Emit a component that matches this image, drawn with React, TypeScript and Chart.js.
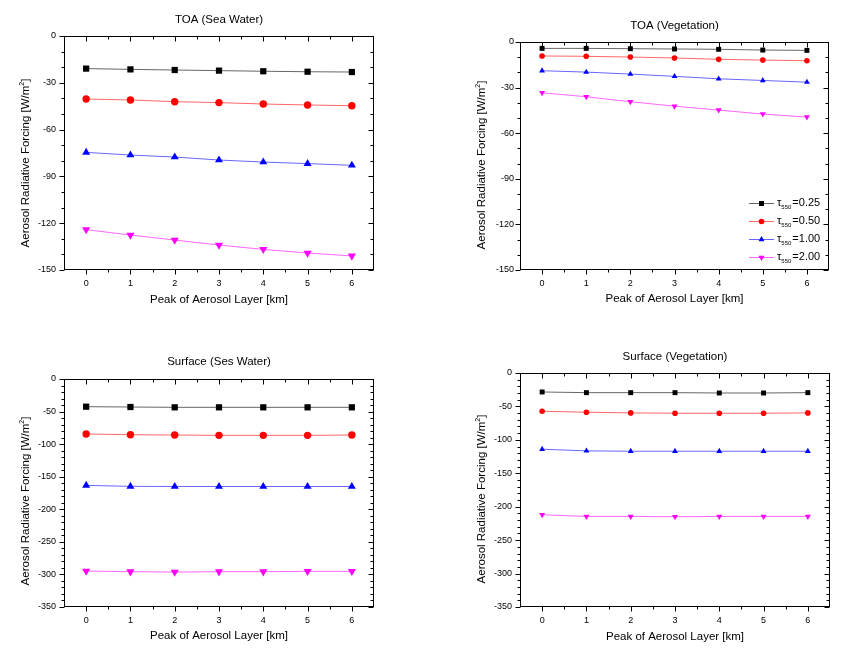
import React, { useEffect, useRef } from "react";
import { Chart, registerables } from "chart.js";
import { drawPoint } from "chart.js/helpers";

Chart.register(...registerables);

// ---------- data ----------
const heights = [0, 1, 2, 3, 4, 5, 6];
const xTickValues = [0, 1, 2, 3, 4, 5, 6];
const tauValues = ["0.25", "0.50", "1.00", "2.00"];

const panelTitles = ["TOA (Sea Water)", "TOA (Vegetation)", "Surface (Ses Water)", "Surface (Vegetation)"];
const xAxisTitle = "Peak of Aerosol Layer [km]";
const yAxisTitleMain = "Aerosol Radiative Forcing [W/m";
const yAxisTitleSup = "2";
const yAxisTitleEnd = "]";

const toaSea025 = [-20.9, -21.4, -21.8, -22.2, -22.6, -22.9, -23.1];
const toaSea050 = [-40.4, -41.0, -42.1, -42.7, -43.6, -44.2, -44.7];
const toaSea100 = [-74.6, -76.3, -77.6, -79.5, -80.8, -81.8, -82.9];
const toaSea200 = [-124.1, -127.6, -130.8, -134.0, -136.8, -139.1, -141.0];

const toaVeg025 = [-4.2, -4.2, -4.4, -4.6, -4.8, -5.3, -5.5];
const toaVeg050 = [-9.2, -9.4, -9.9, -10.5, -11.4, -11.9, -12.3];
const toaVeg100 = [-18.9, -19.8, -21.1, -22.6, -24.2, -25.3, -26.4];
const toaVeg200 = [-33.4, -36.0, -39.3, -42.2, -44.8, -47.4, -49.4];

const sfcSea025 = [-42.5, -43.0, -43.5, -43.5, -43.5, -43.5, -43.5];
const sfcSea050 = [-84.4, -85.5, -86.0, -86.5, -86.5, -86.5, -86.0];
const sfcSea100 = [-163.3, -164.8, -165.0, -165.0, -165.0, -165.0, -165.0];
const sfcSea200 = [-294.8, -295.8, -296.3, -295.8, -295.8, -295.3, -295.3];

const sfcVeg025 = [-28.4, -29.4, -29.4, -29.4, -29.9, -29.9, -29.4];
const sfcVeg050 = [-57.2, -58.7, -59.7, -60.2, -60.2, -60.2, -59.7];
const sfcVeg100 = [-114.0, -116.5, -117.0, -117.0, -117.0, -117.0, -117.0];
const sfcVeg200 = [-212.0, -214.5, -214.5, -215.0, -214.5, -214.5, -214.5];

const toaYTicks = { min: -150, max: 0, step: 30, minor: 10 };
const sfcYTicks = { min: -350, max: 0, step: 50, minor: 10 };

// ---------- styles ----------
const FONT = "'Liberation Sans', Arial, Helvetica, sans-serif";
const seriesColors = ["#000000", "#ff0000", "#0000ff", "#ff00ff"];
const seriesLineColors = ["rgba(0,0,0,0.6)", "rgba(255,0,0,0.6)", "rgba(0,0,255,0.6)", "rgba(255,0,255,0.6)"];
const seriesPointStyles = ["rect", "circle", "triangle", "triangle"];
const seriesRotations = [0, 0, 0, 180];
const bigRadii = [4.4, 3.7, 4.6, 4.7];
const smallRadii = [3.5, 2.8, 3.4, 3.5];

const W = 421;
const H = 328;
const Y_W = 40;
const X_H = 30;

type PanelCfg = {
  posX: number;
  posY: number;
  area: { l: number; r: number; t: number; b: number };
  title: string;
  titleY: number;
  xTitleY: number;
  yTitleX: number;
  yTitleY: number;
  yTicks: { min: number; max: number; step: number; minor: number };
  series: number[][];
  radii: number[];
  legend: boolean;
  yPad: number;
};

const panels: PanelCfg[] = [
  {
    posX: 0, posY: 0, area: { l: 64, r: 374, t: 36, b: 270 },
    title: panelTitles[0], titleY: 20, xTitleY: 300, yTitleX: 26, yTitleY: 163,
    yTicks: toaYTicks, series: [toaSea025, toaSea050, toaSea100, toaSea200], radii: bigRadii, legend: false, yPad: 8,
  },
  {
    posX: 421, posY: 0, area: { l: 99, r: 408, t: 42, b: 270 },
    title: panelTitles[1], titleY: 26, xTitleY: 299, yTitleX: 61, yTitleY: 165,
    yTicks: toaYTicks, series: [toaVeg025, toaVeg050, toaVeg100, toaVeg200], radii: smallRadii, legend: true, yPad: 6,
  },
  {
    posX: 0, posY: 328, area: { l: 64, r: 374, t: 51, b: 279 },
    title: panelTitles[2], titleY: 34, xTitleY: 308, yTitleX: 26, yTitleY: 173,
    yTicks: sfcYTicks, series: [sfcSea025, sfcSea050, sfcSea100, sfcSea200], radii: bigRadii, legend: false, yPad: 8,
  },
  {
    posX: 421, posY: 328, area: { l: 99, r: 409, t: 45, b: 279 },
    title: panelTitles[3], titleY: 29, xTitleY: 309, yTitleX: 61, yTitleY: 171,
    yTicks: sfcYTicks, series: [sfcVeg025, sfcVeg050, sfcVeg100, sfcVeg200], radii: smallRadii, legend: false, yPad: 8,
  },
];

function decorPlugin(cfg: PanelCfg) {
  return {
    id: "decor",
    afterDraw(chart: any) {
      const ctx: CanvasRenderingContext2D = chart.ctx;
      const { left, right, top, bottom } = chart.chartArea;
      const xs = chart.scales.x;
      const ys = chart.scales.y;
      ctx.save();
      ctx.strokeStyle = "#000";
      ctx.lineWidth = 1;
      const L = Math.round(left) + 0.5;
      const R = Math.round(right) - 0.5;
      const T = Math.round(top) + 0.5;
      const B = Math.round(bottom) - 0.5;
      ctx.strokeRect(L, T, R - L, B - T);
      ctx.beginPath();
      for (let k = 0; k <= 12; k++) {
        const v = k * 0.5;
        const major = k % 2 === 0;
        const len = major ? 5 : 3;
        const px = Math.round(xs.getPixelForValue(v)) + 0.5;
        ctx.moveTo(px, B);
        ctx.lineTo(px, B + len);
        ctx.moveTo(px, T);
        ctx.lineTo(px, T + len);
      }
      const yt = cfg.yTicks;
      const n = Math.round((yt.max - yt.min) / yt.minor);
      for (let k = 0; k <= n; k++) {
        const v = yt.min + k * yt.minor;
        const major = Math.abs(v % yt.step) < 1e-6;
        const len = major ? 5 : 3;
        const py = Math.round(ys.getPixelForValue(v)) + 0.5;
        ctx.moveTo(L, py);
        ctx.lineTo(L - len, py);
        ctx.moveTo(R, py);
        ctx.lineTo(R - len, py);
      }
      ctx.stroke();

      // titles
      ctx.fillStyle = "#000";
      ctx.textBaseline = "middle";
      ctx.textAlign = "center";
      ctx.font = `11.5px ${FONT}`;
      const cx = (left + right) / 2;
      ctx.fillText(cfg.title, cx, cfg.titleY);
      ctx.fillText(xAxisTitle, cx, cfg.xTitleY);

      // y axis title with superscript
      ctx.save();
      ctx.translate(cfg.yTitleX, cfg.yTitleY);
      ctx.rotate(-Math.PI / 2);
      ctx.textAlign = "left";
      const mainFont = `11.5px ${FONT}`;
      const supFont = `7px ${FONT}`;
      ctx.font = mainFont;
      const w1 = ctx.measureText(yAxisTitleMain).width;
      const w3 = ctx.measureText(yAxisTitleEnd).width;
      ctx.font = supFont;
      const w2 = ctx.measureText(yAxisTitleSup).width;
      let x0 = -(w1 + w2 + w3) / 2;
      ctx.font = mainFont;
      ctx.fillText(yAxisTitleMain, x0, 0);
      x0 += w1;
      ctx.font = supFont;
      ctx.fillText(yAxisTitleSup, x0, -4);
      x0 += w2;
      ctx.font = mainFont;
      ctx.fillText(yAxisTitleEnd, x0, 0);
      ctx.restore();

      // legend
      if (cfg.legend) {
        const rowsY = [203, 221, 239, 257];
        chart.data.datasets.forEach((ds: any, i: number) => {
          const y = rowsY[i];
          ctx.strokeStyle = ds.borderColor;
          ctx.lineWidth = 1;
          ctx.beginPath();
          ctx.moveTo(328, y + 0.5);
          ctx.lineTo(353, y + 0.5);
          ctx.stroke();
          ctx.fillStyle = ds.pointBackgroundColor;
          drawPoint(ctx, { pointStyle: ds.pointStyle, rotation: ds.pointRotation, radius: ds.pointRadius, borderWidth: 0 } as any, 340.5, y + 0.5);
          ctx.fillStyle = "#000";
          ctx.textAlign = "left";
          ctx.textBaseline = "middle";
          ctx.font = `11px ${FONT}`;
          let tx = 356;
          ctx.fillText("τ", tx, y);
          tx += ctx.measureText("τ").width;
          ctx.font = `6px ${FONT}`;
          ctx.fillText("550", tx, y + 4);
          tx += ctx.measureText("550").width + 1;
          ctx.font = `11px ${FONT}`;
          ctx.fillText("=" + tauValues[i], tx, y);
        });
      }
      ctx.restore();
    },
  };
}

function Panel({ cfg }: { cfg: PanelCfg }) {
  const ref = useRef<HTMLCanvasElement | null>(null);
  useEffect(() => {
    if (!ref.current) return;
    const datasets = cfg.series.map((vals, i) => ({
      label: "τ550=" + tauValues[i],
      data: heights.map((h, j) => ({ x: h, y: vals[j] })),
      borderColor: seriesLineColors[i],
      backgroundColor: seriesColors[i],
      pointBackgroundColor: seriesColors[i],
      pointBorderColor: seriesColors[i],
      pointBorderWidth: 0,
      pointStyle: seriesPointStyles[i],
      pointRotation: seriesRotations[i],
      pointRadius: cfg.radii[i],
      borderWidth: 1,
      tension: 0,
      fill: false,
    }));
    const chart = new Chart(ref.current, {
      type: "line",
      data: { datasets },
      options: {
        responsive: false,
        animation: false,
        devicePixelRatio: 1,
        layout: {
          padding: {
            left: cfg.area.l - Y_W,
            right: W - cfg.area.r,
            top: cfg.area.t,
            bottom: H - cfg.area.b - X_H,
          },
        },
        plugins: {
          legend: { display: false },
          tooltip: { enabled: false },
          title: { display: false },
        },
        scales: {
          x: {
            type: "linear",
            min: -0.5,
            max: 6.5,
            afterBuildTicks: (s: any) => {
              s.ticks = xTickValues.map((v) => ({ value: v }));
            },
            afterFit: (s: any) => {
              s.height = X_H;
            },
            grid: { display: false, drawTicks: false },
            border: { display: false },
            ticks: {
              font: { size: 9, family: FONT },
              color: "#000",
              padding: 8,
              autoSkip: false,
              maxRotation: 0,
            },
          },
          y: {
            type: "linear",
            min: cfg.yTicks.min,
            max: cfg.yTicks.max,
            afterFit: (s: any) => {
              s.width = Y_W;
            },
            grid: { display: false, drawTicks: false },
            border: { display: false },
            ticks: {
              stepSize: cfg.yTicks.step,
              font: { size: 9, family: FONT },
              color: "#000",
              padding: cfg.yPad,
            },
          },
        },
      } as any,
      plugins: [decorPlugin(cfg)],
    });
    return () => chart.destroy();
  }, [cfg]);
  return (
    <div style={{ position: "absolute", left: cfg.posX, top: cfg.posY, width: W, height: H }}>
      <canvas ref={ref} width={W} height={H} style={{ display: "block", width: W, height: H }} />
    </div>
  );
}

export default function App() {
  return (
    <div style={{ position: "absolute", left: 0, top: 0, width: 842, height: 656, background: "#ffffff" }}>
      {panels.map((p, i) => (
        <Panel key={i} cfg={p} />
      ))}
    </div>
  );
}
